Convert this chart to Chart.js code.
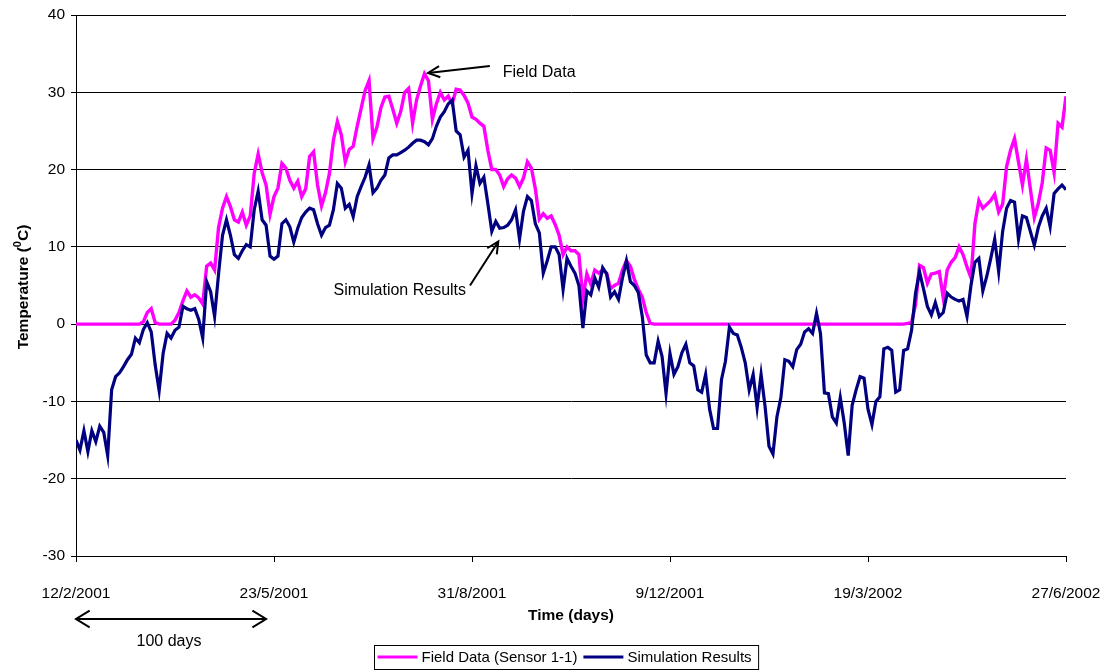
<!DOCTYPE html>
<html>
<head>
<meta charset="utf-8">
<title>Temperature: field data vs simulation</title>
<script src="https://cdn.jsdelivr.net/npm/chart.js@4.4.1/dist/chart.umd.min.js"></script>
<style>
  html, body { margin: 0; padding: 0; background: #ffffff; }
  #wrap { width: 1104px; height: 670px; }
</style>
</head>
<body>
<div id="wrap"><canvas id="chart" width="1104" height="670"></canvas></div>
<script>
// Daily readings sampled every 2 days, starting 12/2/2001 (day 0) and ending 27/6/2002 (day 500)
const STEP_DAYS = 2;

// Tick labels, one per 100 days
const dateLabels = ['12/2/2001', '23/5/2001', '31/8/2001', '9/12/2001', '19/3/2002', '27/6/2002'];

// Field Data (Sensor 1-1), degrees C
const fieldData = [
  0, 0, 0, 0, 0, 0, 0, 0, 0, 0,
  0, 0, 0, 0, 0, 0, 0, 0.3, 1.5, 2.0,
  0.2, 0, 0, 0, 0, 0.5, 1.5, 3.0, 4.3, 3.5,
  3.8, 3.4, 2.6, 7.5, 7.9, 7.0, 12.5, 15.0, 16.5, 15.2,
  13.5, 13.2, 14.5, 12.8, 14.0, 19.5, 22.0, 19.6, 18.0, 14.2,
  16.5, 17.6, 20.8, 20.2, 18.6, 17.6, 18.5, 16.5, 17.5, 21.7,
  22.3, 18.0, 15.3, 17.0, 19.5, 23.8, 26.2, 24.5, 21.0, 22.6,
  23.0, 25.6, 27.9, 30.2, 31.5, 24.0, 25.5, 28.0, 29.4, 29.5,
  27.8, 26.0, 27.5, 30.0, 30.5, 26.0, 29.0, 30.8, 32.4, 31.5,
  26.5, 28.5, 30.0, 29.0, 29.5, 28.5, 30.4, 30.3, 29.6, 28.6,
  26.8, 26.5, 26.0, 25.6, 22.5, 20.0, 20.0, 19.3, 17.8, 18.8,
  19.3, 18.9, 17.8, 18.9, 21.0, 20.2, 17.5, 13.6, 14.3, 13.7,
  14.0, 12.9, 11.5, 9.0, 10.0, 9.5, 9.5, 9.0, 3.3, 6.5,
  5.2, 7.0, 6.6, 7.0, 6.6, 4.6, 5.0, 5.3, 7.0, 8.2,
  7.5, 5.8, 4.5, 3.5, 1.5, 0.1, 0, 0, 0, 0,
  0, 0, 0, 0, 0, 0, 0, 0, 0, 0,
  0, 0, 0, 0, 0, 0, 0, 0, 0, 0,
  0, 0, 0, 0, 0, 0, 0, 0, 0, 0,
  0, 0, 0, 0, 0, 0, 0, 0, 0, 0,
  0, 0, 0, 0, 0, 0, 0, 0, 0, 0,
  0, 0, 0, 0, 0, 0, 0, 0, 0, 0,
  0.1, 0.2, 2.5, 7.6, 7.3, 5.3, 6.5, 6.6, 6.8, 3.4,
  7.0, 8.0, 8.6, 10.0, 9.0, 7.4, 6.0, 13.0, 16.0, 15.0,
  15.5, 16.0, 16.8, 14.5, 15.5, 20.4, 22.5, 24.0, 21.0, 18.0,
  21.3, 17.5, 13.8, 15.6, 18.3, 22.8, 22.5, 19.6, 26.0, 25.5,
  29.5
];

// Simulation Results, degrees C
const simData = [
  -15.0, -16.3, -13.8, -16.5, -13.8, -15.2, -13.2, -14.0, -17.0, -8.5,
  -6.8, -6.3, -5.5, -4.6, -3.9, -1.8, -2.4, -0.7, 0.2, -1.0,
  -5.3, -8.6, -3.8, -1.2, -1.8, -0.8, -0.4, 2.3, 2.0, 1.8,
  2.0, 0.6, -1.8, 5.5, 4.2, 1.0, 6.5, 11.5, 13.5, 11.5,
  9.0, 8.5, 9.5, 10.3, 10.0, 14.8, 17.2, 13.5, 12.8, 8.8,
  8.4, 8.8, 13.0, 13.5, 12.6, 10.6, 12.4, 13.8, 14.5, 15.0,
  14.8, 13.0, 11.5, 12.5, 12.8, 14.8, 18.2, 17.6, 15.0, 15.5,
  13.9, 16.5, 17.8, 19.0, 20.6, 17.0, 17.6, 18.6, 19.3, 21.5,
  21.9, 21.9, 22.2, 22.5, 22.9, 23.4, 23.8, 23.8, 23.6, 23.2,
  24.0, 25.6, 26.8, 27.5, 28.5, 29.0, 25.0, 24.5, 21.6, 22.5,
  16.9, 20.5, 18.2, 19.0, 15.6, 12.0, 13.3, 12.4, 12.5, 12.8,
  13.5, 14.8, 11.0, 14.6, 16.5, 16.0, 13.0, 11.8, 6.6, 8.2,
  10.0, 10.0, 9.0, 4.5, 8.5, 7.5, 6.6, 5.0, -0.5, 4.3,
  3.8, 6.0, 4.8, 7.3, 6.5, 3.5, 4.2, 3.2, 6.0, 8.2,
  5.5, 5.0, 4.1, 1.0, -4.0, -5.0, -5.0, -2.2, -4.2, -9.0,
  -3.8, -6.5, -5.5, -3.7, -2.6, -5.0, -5.4, -8.5, -8.8, -6.5,
  -11.0, -13.5, -13.5, -7.2, -4.8, -0.4, -1.2, -1.4, -3.0, -5.0,
  -8.5, -6.5, -10.8, -6.5, -10.6, -15.8, -16.8, -12.0, -9.5, -4.6,
  -4.8, -5.5, -3.3, -2.6, -1.0, -0.6, -1.2, 1.4, -1.2, -8.9,
  -9.0, -12.0, -12.8, -9.5, -12.8, -17.0, -10.5, -8.5, -6.8, -7.0,
  -11.0, -13.0, -10.0, -9.4, -3.2, -3.0, -3.4, -8.8, -8.5, -3.4,
  -3.2, -0.8, 4.0, 6.8, 4.6, 2.3, 1.2, 2.8, 1.0, 1.5,
  4.0, 3.5, 3.2, 3.0, 3.2, 1.0, 5.0, 8.0, 8.5, 4.3,
  6.2, 8.5, 11.0, 6.8, 12.0, 15.0, 16.0, 15.8, 11.0, 14.0,
  13.8, 12.0, 10.2, 12.5, 14.0, 15.0, 12.6, 16.9, 17.5, 18.0,
  17.4
];

const seriesNames = ['Field Data (Sensor 1-1)', 'Simulation Results'];
const seriesColors = ['#ff00ff', '#000080'];

// Callout positions in data units (day, degrees C)
const fieldCallout = { text: 'Field Data', label: [215.5, 32.6], tail: [209, 33.4], tip: [177.8, 32.5] };
const simCallout = { text: 'Simulation Results', label: [197, 4.4], tail: [199, 5.0], tip: [213.3, 10.7] };
const spanDays = [0, 96];
const spanLabel = '100 days';

const FONT = '"Liberation Sans", Arial, Helvetica, sans-serif';

function toPoints(values) {
  return values.map((v, i) => ({ x: i * STEP_DAYS, y: v }));
}

function openArrowHead(ctx, fx, fy, tx, ty, len, spread) {
  const a = Math.atan2(ty - fy, tx - fx);
  ctx.beginPath();
  ctx.moveTo(tx - len * Math.cos(a - spread), ty - len * Math.sin(a - spread));
  ctx.lineTo(tx, ty);
  ctx.lineTo(tx - len * Math.cos(a + spread), ty - len * Math.sin(a + spread));
  ctx.stroke();
}

function arrow(ctx, fx, fy, tx, ty) {
  ctx.beginPath();
  ctx.moveTo(fx, fy);
  ctx.lineTo(tx, ty);
  ctx.stroke();
  openArrowHead(ctx, fx, fy, tx, ty, 13, 0.45);
}

const extras = {
  id: 'extras',
  afterDraw(chart) {
    const ctx = chart.ctx;
    const xs = chart.scales.x, ys = chart.scales.y;
    const area = chart.chartArea;
    const px = d => xs.getPixelForValue(d);
    const py = v => ys.getPixelForValue(v);

    ctx.save();
    ctx.strokeStyle = '#000';
    ctx.fillStyle = '#000';
    ctx.lineWidth = 2;
    ctx.lineCap = 'butt';

    // Callouts
    arrow(ctx, px(fieldCallout.tail[0]), py(fieldCallout.tail[1]), px(fieldCallout.tip[0]), py(fieldCallout.tip[1]));
    arrow(ctx, px(simCallout.tail[0]), py(simCallout.tail[1]), px(simCallout.tip[0]), py(simCallout.tip[1]));
    ctx.font = '16px ' + FONT;
    ctx.textBaseline = 'middle';
    ctx.textAlign = 'left';
    ctx.fillText(fieldCallout.text, px(fieldCallout.label[0]), py(fieldCallout.label[1]));
    ctx.textAlign = 'right';
    ctx.fillText(simCallout.text, px(simCallout.label[0]), py(simCallout.label[1]));

    // Y axis title with superscript degree zero
    ctx.save();
    ctx.translate(22, 287);
    ctx.rotate(-Math.PI / 2);
    const bold = 'bold 15.5px ' + FONT;
    const sup = 'bold 11px ' + FONT;
    ctx.font = bold;
    const p1 = 'Temperature (', p3 = 'C)';
    const w1 = ctx.measureText(p1).width, w3 = ctx.measureText(p3).width;
    ctx.font = sup;
    const w2 = ctx.measureText('0').width;
    let x0 = -(w1 + w2 + w3) / 2;
    ctx.textAlign = 'left';
    ctx.textBaseline = 'alphabetic';
    ctx.font = bold;
    ctx.fillText(p1, x0, 5.5);
    ctx.font = sup;
    ctx.fillText('0', x0 + w1, -1.5);
    ctx.font = bold;
    ctx.fillText(p3, x0 + w1 + w2, 5.5);
    ctx.restore();

    // X axis title
    ctx.font = 'bold 15.5px ' + FONT;
    ctx.textAlign = 'center';
    ctx.textBaseline = 'middle';
    ctx.fillText('Time (days)', (area.left + area.right) / 2, 616);

    // 100-day span marker
    const sx0 = px(spanDays[0]), sx1 = px(spanDays[1]);
    const sy = 619;
    ctx.lineWidth = 2;
    ctx.beginPath();
    ctx.moveTo(sx0, sy);
    ctx.lineTo(sx1, sy);
    ctx.stroke();
    openArrowHead(ctx, sx1, sy, sx0, sy, 16, 0.55);
    openArrowHead(ctx, sx0, sy, sx1, sy, 16, 0.55);
    ctx.font = '16px ' + FONT;
    ctx.fillText(spanLabel, (sx0 + sx1) / 2 - 2, 642);

    // Legend box
    ctx.font = '15px ' + FONT;
    const sample = 40, gap = 4, between = 6, padL = 3, padR = 7;
    const tw = seriesNames.map(n => ctx.measureText(n).width);
    const boxW = padL + sample + gap + tw[0] + between + sample + gap + tw[1] + padR;
    const boxX = Math.round((area.left + area.right) / 2 - 5 - boxW / 2) + 0.5;
    const boxY = 645.5, boxH = 24;
    ctx.lineWidth = 1;
    ctx.strokeStyle = '#000';
    ctx.strokeRect(boxX, boxY, boxW, boxH);
    let cx = boxX + padL;
    const ly = boxY + boxH / 2 + 0.5;
    ctx.textAlign = 'left';
    ctx.textBaseline = 'middle';
    for (let i = 0; i < seriesNames.length; i++) {
      ctx.strokeStyle = seriesColors[i];
      ctx.lineWidth = 3;
      ctx.beginPath();
      ctx.moveTo(cx, ly - 1);
      ctx.lineTo(cx + sample, ly - 1);
      ctx.stroke();
      cx += sample + gap;
      ctx.fillStyle = '#000';
      ctx.fillText(seriesNames[i], cx, ly);
      cx += tw[i] + between;
    }
    ctx.restore();
  }
};

new Chart(document.getElementById('chart'), {
  type: 'line',
  data: {
    datasets: [
      {
        label: seriesNames[0],
        data: toPoints(fieldData),
        borderColor: seriesColors[0],
        backgroundColor: seriesColors[0],
        borderWidth: 3.4,
        pointRadius: 0,
        tension: 0,
        order: 1
      },
      {
        label: seriesNames[1],
        data: toPoints(simData),
        borderColor: seriesColors[1],
        backgroundColor: seriesColors[1],
        borderWidth: 3.2,
        pointRadius: 0,
        tension: 0,
        order: 0
      }
    ]
  },
  options: {
    responsive: false,
    animation: false,
    events: [],
    layout: { padding: { top: 15, right: 38, left: 0, bottom: 0 } },
    plugins: {
      legend: { display: false },
      tooltip: { enabled: false },
      title: { display: false }
    },
    scales: {
      x: {
        type: 'linear',
        min: 0,
        max: 500,
        afterFit: s => { s.height = 114; s.paddingLeft = 0; s.paddingRight = 0; },
        afterBuildTicks: s => { s.ticks = dateLabels.map((_, i) => ({ value: i * 100 })); },
        ticks: {
          callback: v => dateLabels[Math.round(v / 100)],
          font: { family: FONT, size: 15.5 },
          color: '#000',
          padding: 22,
          maxRotation: 0,
          autoSkip: false
        },
        grid: { drawOnChartArea: false, drawTicks: true, tickLength: 6, color: '#000', lineWidth: 1 },
        border: { display: true, color: '#000', width: 1 }
      },
      y: {
        min: -30,
        max: 40,
        afterFit: s => { s.width = 76; s.paddingTop = 0; s.paddingBottom = 0; },
        ticks: {
          stepSize: 10,
          font: { family: FONT, size: 15.5 },
          color: '#000',
          padding: 6
        },
        grid: { color: '#000', lineWidth: 1, drawTicks: true, tickLength: 5 },
        border: { display: true, color: '#000', width: 1 }
      }
    }
  },
  plugins: [extras]
});
</script>
</body>
</html>
